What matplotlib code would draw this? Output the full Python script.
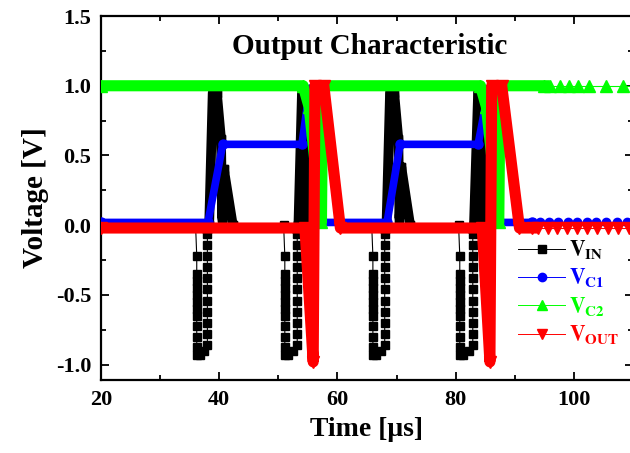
import numpy as np
import matplotlib
matplotlib.use('Agg')
import matplotlib.pyplot as plt
from matplotlib.lines import Line2D
from matplotlib.ticker import MultipleLocator

plt.rcParams['font.family'] = ['Liberation Serif', 'DejaVu Serif']
plt.rcParams['font.weight'] = 'bold'
plt.rcParams['mathtext.fontset'] = 'stix'
plt.rcParams['axes.unicode_minus'] = False

# ---- V_IN (black squares) ----
# times where V_IN leaves 0 V, the down column, the bottom squares and the up column
neg_start = [36.0, 50.9, 65.8, 80.5]
neg_down_t = [36.2, 51.1, 66.0, 80.7]
neg_bottom_t = [[36.7, 37.4], [51.6, 52.5], [66.5, 67.4], [81.3, 82.2]]
neg_up_t = [38.0, 53.2, 68.0, 82.9]
neg_down_v = [-0.22, -0.35, -0.40, -0.45, -0.50, -0.55, -0.60, -0.65, -0.72, -0.80, -0.87, -0.93]
neg_bottom_v = [-0.93, -0.90]
neg_up_v = [-0.86, -0.78, -0.70, -0.62, -0.54, -0.46, -0.38, -0.30, -0.22, -0.14, -0.06]
# positive pulses (dense samples -> drawn as a band)
pos_t = [[38.0, 38.3, 38.9, 39.6, 40.3, 40.5, 40.8, 42.3],
         [53.2, 53.4, 54.0, 54.3, 54.8],
         [68.0, 68.3, 68.9, 69.6, 70.3, 70.5, 70.8, 72.3],
         [82.9, 83.1, 83.8, 84.1, 84.6]]
pos_v = [[-0.03, 0.0, 0.95, 0.95, 0.62, 0.05, 0.40, 0.0],
         [-0.03, 0.0, 0.95, 0.95, 0.0],
         [-0.03, 0.0, 0.95, 0.95, 0.62, 0.05, 0.42, 0.0],
         [-0.03, 0.0, 0.95, 0.95, 0.0]]

# ---- V_C1 (blue circles) ----
c1_t = [20, 38.1, 40.6, 54.0, 55.3, 55.7, 57.5, 68.4, 70.6, 83.8, 85.6, 86.0, 87.5, 93.0]
c1_v = [0.02, 0.02, 0.58, 0.58, 0.98, 0.98, 0.02, 0.02, 0.58, 0.58, 0.98, 0.98, 0.02, 0.02]
c1_tail_t = [94.3, 95.8, 97.3, 99.0, 100.6, 102.2, 103.8, 105.5, 107.3, 109.0]

# ---- V_C2 (green up triangles) ----
c2_t = [20, 54.2, 55.2, 57.3, 57.5, 84.2, 85.2, 87.3, 87.5, 95.0]
c2_v = [1.0, 1.0, 0.85, 0.02, 1.0, 1.0, 0.85, 0.02, 1.0, 1.0]
c2_tail_t = [95.9, 97.6, 99.1, 100.7, 102.6, 105.4, 108.3]

# ---- V_OUT (red down triangles) ----
out_t = [20, 54.5, 55.9, 56.2, 57.7, 60.5, 84.5, 85.8, 86.1, 87.8, 90.8, 93.0]
out_v = [-0.02, -0.02, -0.98, 1.0, 1.0, -0.02, -0.02, -0.98, 1.0, 1.0, -0.02, -0.02]
out_tail_t = [94.0, 95.6, 97.2, 98.8, 100.5, 102.2, 103.9, 105.7, 107.5, 109.3]

# build the V_IN path
vin_t, vin_v = [20.0], [0.0]
for i in range(len(neg_start)):
    vin_t += [neg_start[i]]
    vin_v += [0.0]
    vin_t += [neg_down_t[i]] * len(neg_down_v)
    vin_v += neg_down_v
    vin_t += neg_bottom_t[i]
    vin_v += neg_bottom_v
    vin_t += [neg_up_t[i]] * len(neg_up_v)
    vin_v += neg_up_v
    vin_t += pos_t[i]
    vin_v += pos_v[i]
vin_t += [110.0]
vin_v += [0.0]

BLK, BLU, GRN, RED = '#000000', '#0000ff', '#00ff00', '#ff0000'

fig = plt.figure(figsize=(6.3, 4.53), dpi=100)
ax = fig.add_axes([0.1603, 0.1611, 0.8444, 0.8035])

# V_IN
ax.plot(vin_t, vin_v, color=BLK, lw=0.8, marker='s', ms=6, zorder=2)
for t, v in zip(pos_t, pos_v):
    ax.plot(t, v, color=BLK, lw=7, marker='s', ms=6, zorder=2)

# V_C1
ax.plot(c1_t, c1_v, color=BLU, lw=5.5, marker='o', ms=6.5, zorder=3)
ax.plot([c1_t[-1]] + c1_tail_t + [110], [0.02] * (len(c1_tail_t) + 2),
        color=BLU, lw=0.8, zorder=3)
ax.plot(c1_tail_t, [0.02] * len(c1_tail_t), ls='none', color=BLU, marker='o', ms=6, zorder=3)

# V_C2
ax.plot(c2_t, c2_v, color=GRN, lw=8, marker='^', ms=8, zorder=4)
ax.plot([c2_t[-1]] + c2_tail_t + [110], [1.0] * (len(c2_tail_t) + 2),
        color=GRN, lw=0.8, zorder=4)
ax.plot(c2_tail_t, [1.0] * len(c2_tail_t), ls='none', color=GRN, marker='^', ms=8.5, zorder=4)

# V_OUT
ax.plot(out_t, out_v, color=RED, lw=8, marker='v', ms=9, zorder=5)
ax.plot([out_t[-1]] + out_tail_t + [110], [-0.02] * (len(out_tail_t) + 2),
        color=RED, lw=0.8, zorder=5)
ax.plot(out_tail_t, [-0.02] * len(out_tail_t), ls='none', color=RED, marker='v', ms=8, zorder=5)

ax.set_xlim(20, 110)
ax.set_ylim(-1.11, 1.5)
ax.xaxis.set_major_locator(MultipleLocator(20))
ax.xaxis.set_minor_locator(MultipleLocator(10))
ax.yaxis.set_major_locator(MultipleLocator(0.5))
ax.yaxis.set_minor_locator(MultipleLocator(0.25))
ax.tick_params(which='both', direction='in', top=True, right=True, width=1.3)
ax.tick_params(which='major', length=6, labelsize=16, pad=7)
ax.tick_params(which='minor', length=3.5)
for lab in ax.get_xticklabels() + ax.get_yticklabels():
    lab.set_fontweight('bold')
for sp in ax.spines.values():
    sp.set_linewidth(1.6)

ax.set_xlabel('Time [μs]', fontsize=20, fontweight='bold', labelpad=5)
ax.set_ylabel('Voltage [V]', fontsize=21, fontweight='bold', labelpad=5)
ax.text(0.505, 0.915, 'Output Characteristic', transform=ax.transAxes,
        ha='center', va='center', fontsize=21, fontweight='bold')

handles = [Line2D([], [], color=BLK, lw=0.7, marker='s', ms=6),
           Line2D([], [], color=BLU, lw=0.7, marker='o', ms=6),
           Line2D([], [], color=GRN, lw=0.7, marker='^', ms=7),
           Line2D([], [], color=RED, lw=0.7, marker='v', ms=7)]
labels = [r'$\mathbf{V}_{\mathbf{IN}}$', r'$\mathbf{V}_{\mathbf{C1}}$',
          r'$\mathbf{V}_{\mathbf{C2}}$', r'$\mathbf{V}_{\mathbf{OUT}}$']
leg = ax.legend(handles, labels, loc='upper left', bbox_to_anchor=(0.784, 0.39),
                frameon=False, fontsize=15.5, handlelength=2.2, handletextpad=0.15,
                labelspacing=0.25, borderpad=0, borderaxespad=0)
for txt, c in zip(leg.get_texts(), [BLK, BLU, GRN, RED]):
    txt.set_color(c)

fig.savefig('out.png', dpi=100)
